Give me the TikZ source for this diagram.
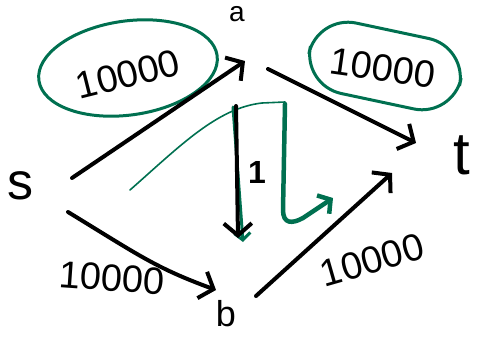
\documentclass[tikz,border=0pt]{standalone}
\usepackage{fontspec}
\setmainfont{Liberation Sans}
\usetikzlibrary{arrows.meta,calc,shapes.geometric}
\definecolor{pen}{RGB}{0,112,80}
\tikzset{
  vtx/.style={inner sep=0pt},
  wt/.style={inner sep=0pt, font=\fontsize{38}{40}\selectfont},
  edge/.style={line width=4pt, line cap=round, line join=round,
    -{Straight Barb[length=12pt,width=28pt,line width=4pt]}},
  ring/.style={draw=pen, line width=3pt},
  thin path/.style={draw=pen, line width=1.6pt, line cap=round},
  thick path/.style={draw=pen, line width=4.5pt, line cap=round, line join=round,
    -{Straight Barb[length=9pt,width=22pt,line width=4.5pt]}}
}
\begin{document}
\begin{tikzpicture}[x=1pt,y=-1pt]
\useasboundingbox (0,0) rectangle (499,338);
% vertices
\node[vtx, font=\fontsize{52}{54}\selectfont] (s) at (20,186) {s};
\node[vtx, font=\fontsize{28}{30}\selectfont] (a) at (237,14) {a};
\node[vtx, font=\fontsize{60}{62}\selectfont] (t) at (462,155) {t};
\node[vtx, font=\fontsize{36}{38}\selectfont] (b) at (226,314) {b};
% weights
\node[wt, rotate=14] (w1) at (128,74) {10000};
\node[ring, ellipse, minimum width=180pt, minimum height=94pt, rotate=8] (r1) at (128,68) {};
\node[wt, rotate=-8] (w2) at (383,68) {10000};
\node[ring, rounded corners=40pt, minimum width=154pt, minimum height=72pt, rotate=-12] (r2) at (385,66) {};
\node[wt, rotate=-4] (w3) at (112,278) {10000};
\node[wt, rotate=16] (w4) at (372,260) {10000};
\node[vtx, font=\bfseries\fontsize{32}{34}\selectfont] (w5) at (257,172) {1};
% green augmenting path
\draw[thin path] ($(s)+(110,4)$) .. controls ($(s)+(160,-40)$) and ($(a)+(-20,94)$) .. ($(a)+(25,89)$) -- ($(a)+(48,88)$);
\draw[thick path] ($(a)+(48,90)$) -- ($(a)+(46,196)$) .. controls ($(a)+(46,210)$) and ($(a)+(55,210)$) .. ($(a)+(66,204)$) -- ($(a)+(96,184)$);
\draw[draw=pen, line width=3pt, line cap=round, -{Straight Barb[length=7pt,width=16pt,line width=3pt]}] ($(a)+(-4,93)$) -- ($(a)+(6,228)$);
% edges
\draw[edge] ($(s)+(52,-8)$) -- ($(a)+(8,47)$);
\draw[edge] ($(a)+(31,55)$) -- ($(t)+(-46,-12)$);
\draw[edge] ($(a)+(-1,92)$) -- ($(b)+(12,-76)$);
\draw[edge] ($(s)+(48,26)$) .. controls ($(s)+(120,70)$) and ($(b)+(-70,-46)$) .. ($(b)+(-10,-24)$);
\draw[edge] ($(b)+(30,-18)$) -- ($(t)+(-70,18)$);
\end{tikzpicture}
\end{document}
